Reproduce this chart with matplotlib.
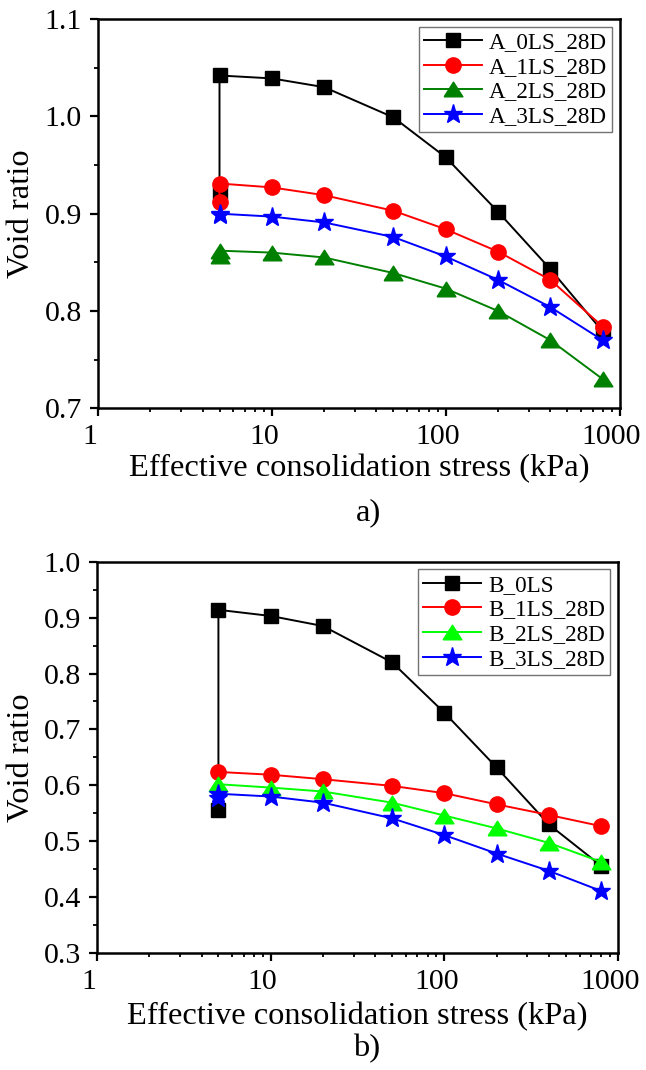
"""
Void ratio against effective consolidation stress (log scale) for the
A and B mixes, cured 28 days, with 0-3 LS content.
"""

import numpy as np
import matplotlib.pyplot as plt
from matplotlib.ticker import MultipleLocator, LogLocator, NullFormatter
from matplotlib.transforms import ScaledTranslation

# --- Data ---
# first reading at 5 kPa is repeated (two values at the same stress)
stress_2 = [5, 5, 10, 20, 50, 100, 200, 400, 800]
stress_1 = [5, 10, 20, 50, 100, 200, 400, 800]

a_0ls = [0.922, 1.042, 1.039, 1.030, 0.999, 0.958, 0.902, 0.843, 0.779]
a_1ls = [0.912, 0.931, 0.927, 0.919, 0.903, 0.884, 0.861, 0.832, 0.784]
a_2ls = [0.857, 0.862, 0.860, 0.855, 0.839, 0.823, 0.800, 0.770, 0.730]
a_3ls = [0.899, 0.900, 0.897, 0.891, 0.876, 0.856, 0.832, 0.804, 0.770]

b_0ls = [0.556, 0.914, 0.903, 0.885, 0.820, 0.730, 0.632, 0.530, 0.456]
b_1ls = [0.624, 0.619, 0.611, 0.599, 0.586, 0.566, 0.547, 0.527]
b_2ls = [0.602, 0.596, 0.589, 0.569, 0.546, 0.523, 0.497, 0.463]
b_3ls = [0.578, 0.585, 0.580, 0.569, 0.541, 0.511, 0.478, 0.447, 0.411]

labels_a = ['A_0LS_28D', 'A_1LS_28D', 'A_2LS_28D', 'A_3LS_28D']
labels_b = ['B_0LS', 'B_1LS_28D', 'B_2LS_28D', 'B_3LS_28D']

# --- Plot settings ---
plt.rcParams['font.family'] = ['Liberation Serif', 'DejaVu Serif']

FS_TICK = 21.5
FS_LAB = 23.4

# wide, flat triangle like the Origin one
tri = [(-1, -0.78), (1, -0.78), (0, 0.78), (-1, -0.78)]
markers = ['s', 'o', tri, '*']
msizes = [10, 11, 13.5, 14]


def style_axes(ax, ylim, ymajor):
    ax.set_xscale('log')
    ax.set_xlim(1, 1000)
    ax.set_ylim(*ylim)
    ax.set_xticks([1, 10, 100, 1000])
    ax.set_xticklabels(['1', '10', '100', '1000'])
    ax.xaxis.set_minor_locator(LogLocator(base=10, subs=np.arange(2, 10)))
    ax.xaxis.set_minor_formatter(NullFormatter())
    ax.yaxis.set_major_locator(MultipleLocator(ymajor))
    ax.yaxis.set_minor_locator(MultipleLocator(ymajor / 2))
    ax.yaxis.set_major_formatter(plt.FormatStrFormatter('%.1f'))
    for s in ax.spines.values():
        s.set_linewidth(1.8)
    ax.tick_params(which='major', direction='out', length=6, width=1.6,
                   labelsize=FS_TICK, pad=5.5)
    ax.tick_params(which='minor', direction='out', length=3, width=1.3)
    ax.tick_params(top=False, right=False, which='both')
    # x tick labels sit a little left of their ticks
    shift = ScaledTranslation(-8 / 100, 0, ax.figure.dpi_scale_trans)
    for tick in ax.xaxis.get_major_ticks():
        tick.label1.set_transform(tick.label1.get_transform() + shift)


def draw_panel(ax, series, colors, labels):
    for (x, y), c, m, ms, lab in zip(series, colors, markers, msizes, labels):
        ax.plot(x, y, color=c, lw=1.4, marker=m, ms=ms, mfc=c, mec=c,
                mew=1, label=lab, clip_on=False)
    leg = ax.legend(loc='upper right', fontsize=16.7, frameon=True,
                    fancybox=False, edgecolor='0.45', framealpha=1,
                    borderaxespad=0.33, handlelength=2.5, handletextpad=0.3,
                    labelspacing=0.15, borderpad=0.22, numpoints=1)
    leg.get_frame().set_linewidth(1.0)
    ax.set_ylabel('Void ratio', fontsize=FS_LAB)
    ax.set_xlabel('Effective consolidation stress (kPa)', fontsize=FS_LAB)
    ax.xaxis.label.set_va('center')
    ax.yaxis.label.set_va('center')


fig = plt.figure(figsize=(6.46, 10.70), dpi=100)

# panel a)
ax1 = fig.add_axes([0.1517, 0.6184, 0.8073, 0.3638])
style_axes(ax1, (0.7, 1.1), 0.1)
draw_panel(ax1,
           [(stress_2, a_0ls), (stress_2, a_1ls), (stress_2, a_2ls), (stress_2, a_3ls)],
           ['black', 'red', 'green', 'blue'], labels_a)
ax1.xaxis.set_label_coords(0.5, -0.156)
ax1.yaxis.set_label_coords(-0.147, 0.5)

# panel b)
ax2 = fig.add_axes([0.1502, 0.1093, 0.8065, 0.3657])
style_axes(ax2, (0.3, 1.0), 0.1)
draw_panel(ax2,
           [(stress_2, b_0ls), (stress_1, b_1ls), (stress_1, b_2ls), (stress_2, b_3ls)],
           ['black', 'red', 'lime', 'blue'], labels_b)
ax2.xaxis.set_label_coords(0.5, -0.1636)
ax2.yaxis.set_label_coords(-0.145, 0.5)

fig.text(0.5697, 0.5206, 'a)', fontsize=FS_LAB, ha='center', va='center')
fig.text(0.568, 0.0196, 'b)', fontsize=FS_LAB, ha='center', va='center')

# --- Save ---
fig.savefig('out.png', dpi=100)
